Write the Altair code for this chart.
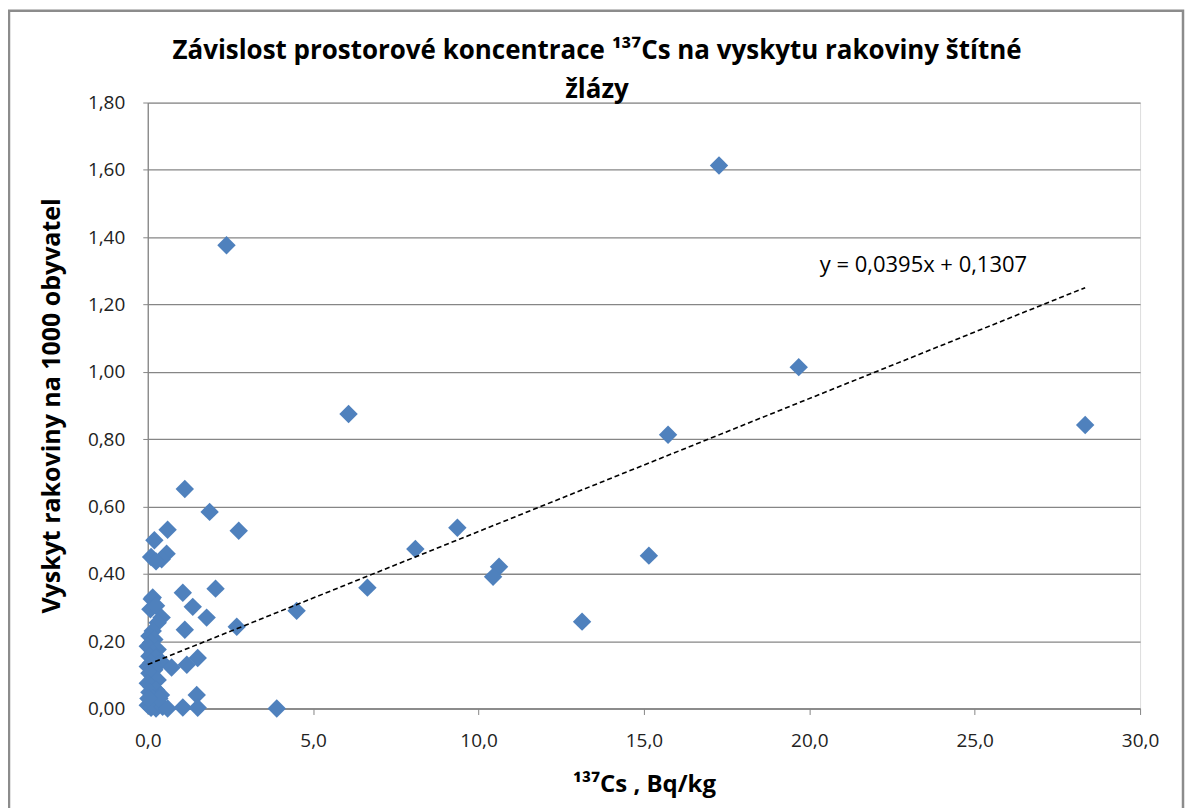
import altair as alt
import pandas as pd

# 137Cs concentration (Bq/kg)
cs = [17.27, 2.38, 19.68, 6.07, 28.34, 15.73, 1.12, 1.87, 9.36, 0.60, 2.75, 0.20,
      8.09, 0.57, 15.15, 0.10, 0.42, 0.25, 10.62, 10.44, 6.64, 2.05, 1.06, 0.15,
      0.12, 0.08, 0.25, 1.36, 4.50, 0.42, 1.78, 0.30, 13.13, 2.69, 1.12, 0.15,
      0.05, 0.20, 0.10, 0.00, 0.30, 0.15, 0.05, 0.25, 1.51, 0.40, 0.10, 1.18,
      0.00, 0.72, 0.20, 0.05, 0.15, 0.30, 0.00, 0.10, 0.25, 0.05, 0.40, 1.48,
      0.15, 0.30, 0.00, 0.10, 0.25, 0.45, 0.60, 1.06, 1.51, 3.90, 0.35, 0.02]
# incidence of thyroid cancer per 1000 inhabitants
rak = [1.613, 1.376, 1.014, 0.875, 0.842, 0.813, 0.652, 0.584, 0.537, 0.531, 0.528, 0.500,
       0.474, 0.460, 0.454, 0.450, 0.443, 0.437, 0.421, 0.391, 0.359, 0.356, 0.344, 0.330,
       0.325, 0.295, 0.305, 0.302, 0.290, 0.270, 0.270, 0.255, 0.258, 0.243, 0.234, 0.230,
       0.215, 0.205, 0.195, 0.185, 0.175, 0.165, 0.155, 0.150, 0.150, 0.140, 0.135, 0.130,
       0.125, 0.122, 0.115, 0.105, 0.095, 0.085, 0.075, 0.065, 0.055, 0.048, 0.040, 0.040,
       0.030, 0.020, 0.010, 0.002, 0.000, 0.005, 0.000, 0.003, 0.002, 0.000, 0.030, 0.030]

# linear trend from the chart's equation
slope = 0.0395
intercept = 0.1307
trend_x = [0.0, 28.34]
trend_y = [intercept + slope * v for v in trend_x]

eq_text = ["y = 0,0395x + 0,1307"]
eq_x = [23.45]
eq_y = [1.317]

x_ticks = [0, 5, 10, 15, 20, 25, 30]
y_ticks = [0, 0.2, 0.4, 0.6, 0.8, 1.0, 1.2, 1.4, 1.6, 1.8]

title_line1 = "Závislost prostorové koncentrace ¹³⁷Cs na vyskytu rakoviny štítné"
title_line2 = "žlázy"
x_title = "¹³⁷Cs , Bq/kg"
y_title = "Vyskyt rakoviny na 1000 obyvatel"

FONT = "Open Sans"
GRID = "#868686"

df = pd.DataFrame({"cs": cs, "rak": rak})
tdf = pd.DataFrame({"cs": trend_x, "rak": trend_y})
edf = pd.DataFrame({"cs": eq_x, "rak": eq_y, "t": eq_text})

xscale = alt.Scale(domain=[0, 30], nice=False, zero=False)
yscale = alt.Scale(domain=[0, 1.8], nice=False, zero=False)

xaxis = alt.Axis(values=x_ticks, labelExpr="replace(format(datum.value,'.1f'),'.',',')",
                 title=x_title, grid=False, domainColor=GRID, domainWidth=1.3,
                 tickColor=GRID, tickSize=6, labelFlush=False,
                 labelPadding=17, labelFontSize=19, labelColor="#222222", labelFont=FONT,
                 titleFont=FONT, titleFontSize=24, titleFontWeight="bold", titleColor="#000000",
                 titlePadding=22)
yaxis = alt.Axis(values=y_ticks, labelExpr="replace(format(datum.value,'.2f'),'.',',')",
                 title=y_title, grid=True, gridColor=GRID, gridWidth=1.3, gridOpacity=1,
                 domainColor=GRID, domainWidth=1.3, tickColor=GRID, tickSize=5,
                 labelFlush=False, labelPadding=18,
                 labelFontSize=19, labelColor="#222222", labelFont=FONT,
                 titleFont=FONT, titleFontSize=25, titleFontWeight="bold", titleColor="#000000",
                 titlePadding=23)

points = alt.Chart(df).mark_point(shape="diamond", filled=True, size=340, color="#4F81BD",
                                  opacity=1).encode(
    x=alt.X("cs:Q", scale=xscale, axis=xaxis),
    y=alt.Y("rak:Q", scale=yscale, axis=yaxis),
)

trend = alt.Chart(tdf).mark_line(color="black", strokeDash=[5, 3], strokeWidth=1.6).encode(
    x=alt.X("cs:Q", scale=xscale),
    y=alt.Y("rak:Q", scale=yscale),
)

eq = alt.Chart(edf).mark_text(font=FONT, fontSize=22, color="#000000", align="center",
                              baseline="middle").encode(
    x=alt.X("cs:Q", scale=xscale),
    y=alt.Y("rak:Q", scale=yscale),
    text="t:N",
)

# outer chart-area frame (decoration)
frame = alt.Chart(pd.DataFrame({"k": [0]})).mark_rect(
    fill=None, stroke="#8c8c8c", strokeWidth=2.5).encode(
    x=alt.value(-139), x2=alt.value(1037), y=alt.value(-92), y2=alt.value(740))

# chart title (two lines), drawn as text
tstyle = dict(font=FONT, fontSize=26, fontWeight="bold", color="#000000",
              align="center", baseline="middle")
title1 = alt.Chart(pd.DataFrame({"t": [title_line1]})).mark_text(**tstyle).encode(
    x=alt.value(450), y=alt.value(-52), text="t:N")
title2 = alt.Chart(pd.DataFrame({"t": [title_line2]})).mark_text(**tstyle).encode(
    x=alt.value(450), y=alt.value(-13), text="t:N")

chart = alt.layer(frame, points, trend, eq, title1, title2).properties(
    width=994,
    height=607,
    autosize=alt.AutoSizeParams(type="none"),
    padding={"left": 140, "top": 94, "right": 45, "bottom": 110},
).configure_view(stroke=None).configure(background="white")

chart.save("out.html", embed_options={"renderer": "svg", "actions": False})
